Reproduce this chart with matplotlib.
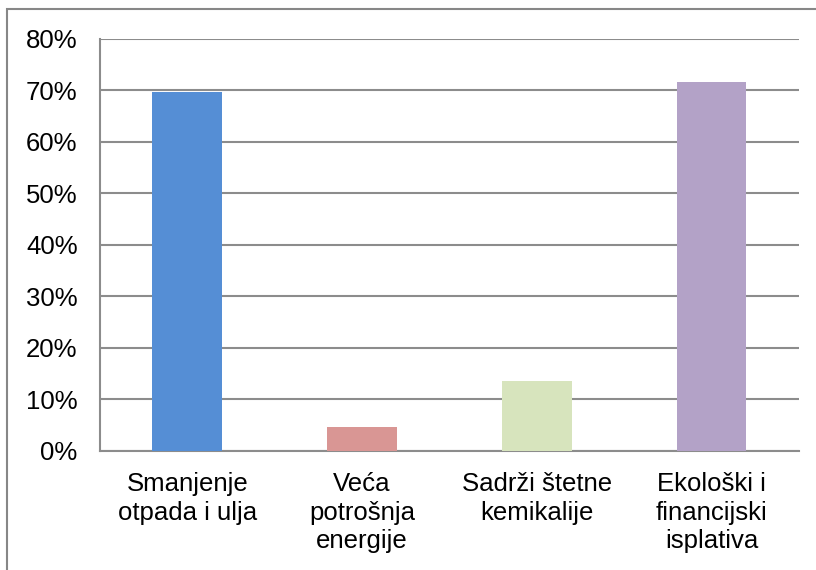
import matplotlib.pyplot as plt
from matplotlib.patches import Rectangle
from matplotlib.ticker import PercentFormatter

plt.rcParams['font.family'] = ['Liberation Sans', 'DejaVu Sans']

categories = ['Smanjenje\notpada i ulja', 'Veća\npotrošnja\nenergije',
              'Sadrži štetne\nkemikalije', 'Ekološki i\nfinancijski\nisplativa']
values = [69.8, 4.7, 13.6, 71.6]
colors = ['#558ED5', '#D99694', '#D7E4BD', '#B3A2C7']

fig = plt.figure(figsize=(8.16, 5.70), dpi=100)
ax = fig.add_axes([0.1225, 0.2088, 0.8565, 0.7228])

x = range(len(categories))
ax.bar(x, values, width=0.4, color=colors, zorder=3)

ax.set_xlim(-0.5, len(categories) - 0.5)
ax.set_ylim(0, 80)
ax.set_yticks(range(0, 81, 10))
ax.yaxis.set_major_formatter(PercentFormatter(decimals=0))
ax.set_xticks(list(x))
ax.set_xticklabels(categories, linespacing=1.25)

ax.grid(axis='y', color='#8c8c8c', linewidth=1.5, zorder=0)
ax.tick_params(axis='both', length=0, labelsize=18.5, colors='black')
ax.tick_params(axis='y', pad=16)
ax.tick_params(axis='x', pad=15)

for side in ['top', 'right']:
    ax.spines[side].set_visible(False)
for side in ['left', 'bottom']:
    ax.spines[side].set_color('#8c8c8c')
    ax.spines[side].set_linewidth(1.5)

# chart frame, open on the right and bottom
fig.patches.append(Rectangle((7 / 816, -0.1), 1.2, (570 - 9) / 570 + 0.1,
                             transform=fig.transFigure, fill=False,
                             edgecolor='#878787', linewidth=1.5))

fig.savefig('out.png', dpi=100)
